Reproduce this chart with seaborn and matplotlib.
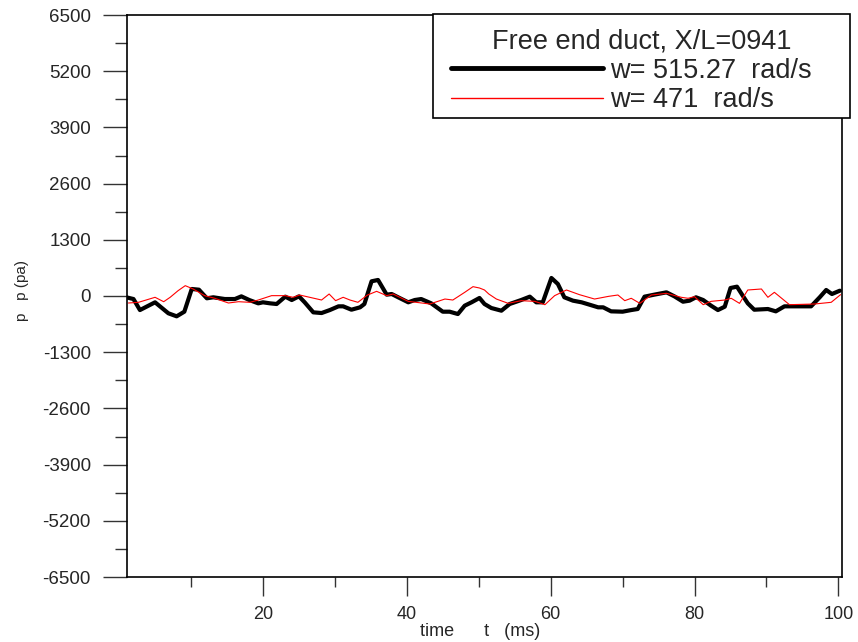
import matplotlib
matplotlib.use("Agg")
import matplotlib.pyplot as plt
import seaborn as sns
import pandas as pd
from matplotlib.ticker import MultipleLocator, FixedLocator
from matplotlib.patches import Rectangle

# ---- data ----
t_black = [1.0, 2.0, 2.9, 5.0, 6.85, 8.0, 9.07, 10.1, 11.1, 12.2, 13.1, 14.7, 16.1, 17.0,
           18.1, 19.35, 20.0, 21.0, 21.9, 23.1, 24.0, 25.0, 25.8, 27.0, 28.15, 29.3, 30.5,
           31.15, 32.3, 33.5, 34.1, 35.1, 36.0, 37.2, 37.9, 38.8, 40.2, 41.1, 42.0, 43.4,
           45.0, 45.95, 47.1, 48.05, 49.0, 50.1, 50.8, 51.75, 53.15, 54.3, 55.9, 57.1, 58.0,
           58.9, 60.1, 61.0, 61.9, 63.1, 64.3, 65.4, 66.6, 67.3, 68.4, 70.0, 71.2, 72.1,
           73.05, 74.4, 76.1, 77.2, 78.4, 79.3, 80.2, 81.2, 82.3, 83.25, 84.2, 85.0, 85.9,
           86.7, 87.4, 88.3, 90.2, 91.3, 92.5, 96.2, 97.4, 98.3, 99.1, 100.2]
p_black = [-30, -70, -325, -146, -400, -470, -363, 162, 146, -53, -30, -70, -70, -8,
           -93, -170, -146, -170, -185, -15, -93, -8, -146, -378, -394, -325, -239,
           -239, -317, -262, -185, 340, 371, 31, 46, -30, -146, -93, -70, -170,
           -363, -363, -417, -224, -146, -46, -185, -278, -340, -185, -93, -15, -146,
           -146, 417, 278, -30, -108, -146, -201, -262, -262, -355, -363, -325, -301,
           -15, 31, 85, -8, -132, -108, -30, -93, -224, -325, -247, 185, 216,
           8, -170, -317, -301, -355, -239, -239, -30, 139, 46, 123]

t_red = [1.3, 2.7, 5.0, 6.2, 7.1, 8.2, 9.2, 10.3, 11.9, 13.3, 15.2, 16.6, 18.2, 19.35,
         21.2, 23.1, 24.2, 25.1, 28.15, 29.2, 30.1, 31.15, 32.1, 33.2, 34.5, 35.8, 37.2,
         38.1, 40.2, 43.2, 45.3, 46.4, 48.05, 49.2, 50.1, 50.8, 51.4, 52.45, 54.1, 55.9,
         57.8, 59.2, 60.55, 62.2, 64.0, 66.1, 68.05, 69.35, 70.3, 71.2, 72.4, 74.0, 76.1,
         78.15, 79.1, 80.0, 81.2, 82.3, 84.2, 85.1, 86.25, 87.4, 89.3, 90.2, 91.1, 93.2,
         96.7, 99.0, 100.3]
p_red = [-162, -146, -30, -132, -30, 123, 239, 162, 8, -53, -162, -132, -146, -93,
         8, 8, -30, 23, -93, 46, -108, -30, -93, -146, 20, 108, 8,
         46, -124, -185, -70, -93, 85, 216, 185, 139, 46, -70, -170, -108,
         -124, -201, 8, 139, 31, -70, -8, 23, -108, -53, -170, 23, 62,
         -30, -53, -15, -201, -124, -93, -53, -170, 139, 162, -30, 85, -201,
         -185, -146, 31]

label_black = "w= 515.27  rad/s"
label_red = "w= 471  rad/s"
legend_title = "Free end duct, X/L=0941"
y_major = [-6500, -5200, -3900, -2600, -1300, 0, 1300, 2600, 3900, 5200, 6500]
x_major = [20, 40, 60, 80, 100]
x_minor = [10, 30, 50, 70, 90]

df_black = pd.DataFrame({"t": t_black, "p": p_black})
df_red = pd.DataFrame({"t": t_red, "p": p_red})

sns.set_style("ticks")
plt.rcParams["font.family"] = ["Liberation Sans", "DejaVu Sans"]

W, H = 858, 642
fig = plt.figure(figsize=(W / 100, H / 100), dpi=100)
ax = fig.add_axes([127 / W, 1 - 577 / H, (842 - 127) / W, (577 - 15) / H])

sns.lineplot(data=df_black, x="t", y="p", ax=ax, color="black", linewidth=3.0,
             label=label_black, sort=False)
sns.lineplot(data=df_red, x="t", y="p", ax=ax, color="#ff0000", linewidth=0.8,
             label=label_red, sort=False)

ax.set_xlim(1.1, 100.5)
ax.set_ylim(-6500, 6500)
ax.yaxis.set_major_locator(FixedLocator(y_major))
ax.yaxis.set_minor_locator(MultipleLocator(650))
ax.xaxis.set_major_locator(FixedLocator(x_major))
ax.xaxis.set_minor_locator(FixedLocator(x_minor))
ax.set_yticklabels([str(v) for v in y_major])
ax.set_xticklabels([str(v) for v in x_major])

ax.tick_params(axis="y", which="major", direction="out", length=17, width=1.0,
               color="#333333", labelsize=13.5, pad=9)
ax.tick_params(axis="y", which="minor", direction="out", length=8.5, width=1.0,
               color="#333333")
ax.tick_params(axis="x", which="major", direction="out", length=14, width=1.0,
               color="#333333", labelsize=13, pad=7)
ax.tick_params(axis="x", which="minor", direction="out", length=7, width=1.0,
               color="#333333")
for s in ax.spines.values():
    s.set_visible(True)
    s.set_linewidth(1.2)
    s.set_color("black")

ax.set_xlabel("time      t   (ms)", fontsize=13)
ax.xaxis.set_label_coords(0.494, -(632 - 577) / (577 - 15), transform=ax.transAxes)
ax.xaxis.label.set_verticalalignment("center")
ax.set_ylabel("p   p (pa)", fontsize=11)
ax.yaxis.set_label_coords(-(127 - 22) / (842 - 127), 0.51, transform=ax.transAxes)
ax.yaxis.label.set_verticalalignment("center")

# legend content (frame drawn separately to match the reference box)
leg = ax.legend(loc="upper left",
                bbox_to_anchor=(439 / W, 1 - 118 / H, 405 / W, 102 / H),
                bbox_transform=fig.transFigure, mode="expand", title=legend_title,
                fontsize=19.5, title_fontsize=19.5, frameon=False,
                handlelength=5.6, handletextpad=0.25, labelspacing=0.13,
                borderpad=0.45, borderaxespad=0)
leg.legend_handles[0].set_linewidth(3.5)
leg.legend_handles[1].set_linewidth(1.0)
leg.set_zorder(6)

box = Rectangle((433 / W, 1 - 118 / H), 417 / W, 104 / H, transform=fig.transFigure,
                facecolor="white", edgecolor="black", linewidth=1.2, zorder=5)
fig.add_artist(box)
fig.add_artist(leg)

fig.savefig("out.png", dpi=100)
